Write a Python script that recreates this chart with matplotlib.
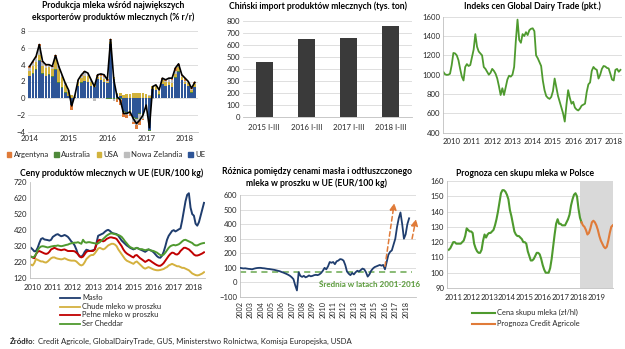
import numpy as np
import matplotlib
matplotlib.use("Agg")
import matplotlib.pyplot as plt
from matplotlib.lines import Line2D
from matplotlib.patches import Patch

plt.rcParams['font.family'] = ['Lato', 'DejaVu Sans']

# ---------------- data ----------------
# 1. Milk production growth among largest exporters (% y/y), monthly from Jan 2014
prod_years = ["2014", "2015", "2016", "2017", "2018"]
prod_ue = [2.6, 2.9, 3.4, 4.4, 2.9, 2.6, 2.8, 2.5, 3.4, 1.8, 1.2, 0.6,
           0.25, -0.85, 0.15, 1.45, 1.85, 2.05, 1.95, 1.45, 1.35, 2.25, 2.15, 1.95,
           1.8, 6.4, 2.3, 0.5, 0.3, -1.5, -1.6, -1.4, -2.2, -2.3, -1.8, -1.9,
           -0.9, -3.8, 1.1, 1.0, 0.45, 1.65, 1.45, 1.55, 1.35, 2.45, 3.15, 2.15,
           1.65, 1.45, 0.65, 1.35]
prod_usa = [0.6, 0.8, 0.8, 0.7, 0.9, 0.9, 0.8, 0.9, 1.2, 1.6, 1.2, 0.9,
            0.5, 0.3, 0.1, 0.4, 0.5, 0.6, 0.7, 0.5, 0.3, 0.2, 0.3, 0.3,
            0.2, 0.3, 0.2, 0.1, 0.3, 0.4, 0.5, 0.5, 0.6, 0.6, 0.6, 0.6,
            0.5, 0.3, 0.4, 0.5, 0.4, 0.5, 0.4, 0.4, 0.4, 0.4, 0.5, 0.3,
            0.3, 0.3, 0.3, 0.3]
prod_nz = [0.3, 0.4, 0.5, 1.0, 0.4, 0.3, 0.3, 0.2, 0.3, 0.3, 0.3, 0.2,
           0.2, 0.1, 0.1, 0.2, 0.3, 0.4, 0.3, 0.2, -0.3, 0.1, 0.2, 0.2,
           0.1, 0.2, -0.2, 0.0, -0.1, -0.2, -0.3, -0.3, -0.5, -0.8, -0.8, -0.4,
           -0.2, 0.1, -0.1, 0.0, 0.1, 0.1, 0.2, 0.3, 0.4, 0.4, 0.2, 0.1,
           0.1, 0.1, 0.1, 0.1]
prod_arg = [0.2, 0.2, 0.2, 0.2, 0.1, 0.1, 0.0, 0.1, 0.1, 0.0, 0.0, 0.0,
            0.0, -0.5, 0.0, 0.1, 0.1, 0.1, 0.0, 0.0, 0.0, 0.2, 0.2, 0.3,
            0.2, 0.2, 0.0, -0.3, -0.6, -0.4, -0.3, -0.3, -0.2, -0.4, -0.5, -0.2,
            -0.1, 0.0, 0.0, 0.1, 0.0, 0.1, 0.1, 0.1, 0.2, 0.3, 0.2, 0.2,
            0.3, 0.1, 0.1, 0.1]
prod_aus = [0.1] * 12 + [0.05] * 12 + [-0.1] * 12 + \
           [-0.1, -0.1, 0.0, 0.0, 0.05, 0.05, 0.05, 0.05, 0.05, 0.05, 0.05, 0.05] + [0.05] * 4
prod_total = [3.8, 4.4, 5.0, 6.4, 4.4, 4.0, 4.0, 3.8, 5.1, 3.8, 2.8, 1.8,
              1.0, -0.9, 0.4, 2.2, 2.8, 3.2, 3.0, 2.2, 1.4, 2.8, 2.9, 2.8,
              2.2, 7.0, 2.2, 0.2, -0.2, -1.8, -1.8, -1.6, -2.4, -3.0, -2.6, -2.0,
              -0.8, -3.5, 1.4, 1.6, 1.0, 2.4, 2.2, 2.4, 2.4, 3.6, 4.1, 2.8,
              2.4, 2.0, 1.2, 1.9]

# 2. Chinese dairy imports (thousand tonnes)
china_periods = ["2015 I-III", "2016 I-III", "2017 I-III", "2018 I-III"]
china_import = [455, 650, 655, 755]

# 3. Global Dairy Trade price index, monthly from Aug 2009
gdt_start = 2009 + 7 / 12
gdt_index = [1030, 1005, 998, 1000, 1010,
             1100, 1225, 1220, 1200, 1150, 1060, 980, 940, 1080, 1110, 1090, 1100,
             1180, 1260, 1420, 1290, 1240, 1220, 1200, 1080, 1060, 1030, 1000, 1020,
             1060, 1040, 1010, 960, 880, 790, 860, 790, 870, 950, 990, 980,
             1000, 1080, 1350, 1570, 1360, 1330, 1420, 1400, 1440, 1410, 1460, 1475,
             1480, 1450, 1200, 1170, 1130, 1090, 940, 840, 780, 760, 750, 770,
             830, 960, 870, 780, 720, 660, 600, 515, 690, 840, 760, 700,
             720, 660, 640, 630, 650, 680, 690, 700, 820, 900, 920, 1040,
             1080, 1060, 1050, 960, 1000, 1060, 1090, 1085, 1070, 1065, 1010, 950,
             940, 1050, 1060, 1030, 1050]

# 4. EU dairy product prices (EUR/100 kg), monthly from Dec 2009
eu_start = 2009 + 11 / 12
butter = [310,
          300, 288, 290, 310, 340, 365, 370, 362, 360, 358, 355, 360,
          378, 385, 392, 395, 388, 382, 385, 390, 385, 378, 365, 350,
          340, 325, 300, 270, 258, 255, 265, 285, 298, 295, 290, 292,
          295, 300, 340, 385, 390, 395, 400, 410, 418, 422, 415, 405,
          400, 398, 395, 385, 370, 355, 345, 335, 325, 318, 310, 305,
          300, 305, 310, 305, 300, 295, 290, 285, 292, 300, 295, 290,
          282, 270, 258, 250, 248, 260, 285, 320, 360, 385, 400, 415,
          420, 412, 418, 425, 430, 480, 540, 600, 640, 650, 560, 520,
          510, 460, 448, 470, 510, 550, 590]
smp = [205,
       200, 215, 240, 235, 230, 225, 225, 220, 218, 225, 235, 245,
       250, 250, 245, 242, 240, 238, 240, 245, 240, 235, 232, 230,
       230, 230, 225, 215, 205, 200, 205, 220, 240, 250, 260, 265,
       265, 275, 290, 305, 310, 305, 300, 305, 315, 325, 330, 335,
       335, 330, 320, 300, 285, 270, 255, 240, 230, 225, 220, 215,
       210, 220, 225, 215, 205, 195, 185, 180, 185, 190, 185, 180,
       175, 172, 170, 170, 172, 175, 178, 185, 190, 200, 205, 210,
       205, 200, 195, 195, 190, 185, 185, 180, 175, 170, 160, 150,
       145, 140, 138, 140, 145, 150, 158]
wmp = [255,
       250, 245, 270, 285, 290, 285, 280, 275, 272, 275, 285, 300,
       305, 310, 305, 300, 298, 295, 298, 300, 295, 290, 290, 290,
       290, 288, 280, 270, 255, 250, 255, 270, 285, 290, 290, 290,
       290, 300, 330, 355, 360, 355, 350, 355, 365, 370, 375, 375,
       372, 370, 365, 350, 335, 320, 300, 285, 275, 268, 262, 255,
       250, 262, 265, 255, 245, 238, 230, 222, 228, 235, 230, 222,
       215, 208, 202, 198, 198, 205, 215, 230, 245, 260, 272, 280,
       278, 270, 268, 275, 290, 300, 310, 310, 305, 300, 290, 280,
       268, 262, 262, 265, 270, 275, 282]
cheddar = [255,
           250, 255, 270, 295, 310, 318, 320, 318, 315, 312, 315, 318,
           320, 322, 322, 325, 322, 320, 322, 325, 328, 330, 335, 338,
           340, 342, 342, 345, 340, 335, 360, 345, 342, 345, 345, 342,
           340, 338, 335, 338, 345, 355, 365, 375, 385, 392, 398, 400,
           398, 395, 392, 390, 385, 378, 365, 350, 338, 325, 315, 310,
           305, 305, 310, 305, 300, 302, 298, 295, 298, 300, 295, 292,
           290, 285, 280, 272, 265, 262, 268, 280, 295, 310, 320, 325,
           328, 325, 328, 332, 340, 350, 358, 360, 355, 350, 345, 340,
           330, 325, 325, 330, 335, 338, 340]
eu_names = ["Masło", "Chude mleko w proszku", "Pełne mleko w proszku", "Ser Cheddar"]

# 5. Butter minus SMP price spread (EUR/100 kg), every two months from 2002
spread_start = 2002
spread = [100, 98, 96, 97, 95, 93,
          92, 90, 94, 97, 99, 100,
          100, 98, 97, 95, 93, 92,
          90, 88, 86, 83, 80, 77,
          72, 68, 63, 58, 52, 45,
          35, 22, -20, -55, 70, 45,
          38, 45, 35, 40, 48, 42,
          45, 50, 52, 50, 55, 65,
          80, 100, 90, 110, 140, 135,
          140, 125, 145, 150, 160, 158,
          150, 120, 75, 60, 50, 65,
          55, 70, 80, 75, 85, 95,
          90, 70, 40, 55, 80, 95,
          105, 110, 115, 120, 115, 120,
          90, 140, 190, 210, 220, 260,
          300, 380, 440, 480, 400, 300,
          330, 400, 440]
spread_avg = 75
arrow_up1 = [(2016.0, 110), (2016.9, 545)]
arrow_up2 = [(2018.62, 300), (2019.0, 435)]

# 6. Polish milk purchase price (PLN/hl) and forecast, monthly
milk_start = 2010 + 9 / 12
milk_price = [115, 116, 118, 120, 120, 119, 119, 119, 119, 120, 121, 124,
              129, 128, 127, 127, 126, 119, 116, 114, 113, 113, 115, 121,
              125, 123, 125, 126, 126, 127, 128, 131, 135, 140, 146, 152,
              154, 154, 153, 151, 148, 141, 137, 132, 127, 125, 124, 124,
              123, 122, 120, 120, 119, 114, 111, 108, 108, 109, 111, 113,
              113, 112, 109, 105, 102, 100, 100, 100, 103, 109, 117, 125,
              132, 135, 132, 132, 131, 131, 131, 133, 135, 138, 144, 148,
              151, 152, 150, 142, 136, 133]
fc_start = 2018 + 2 / 12
milk_forecast = [133, 131, 130, 128, 125, 126, 129, 133, 134, 133, 131, 128,
                 124, 121, 119, 117, 116, 117, 121, 126, 130, 131]
forecast_from = 2018.1

# ---------------- styling helpers ----------------
W, H = 625, 349
fig = plt.figure(figsize=(W / 100, H / 100), dpi=100)
GRID = '#d9d9d9'
TXT = '#262626'
TICK_FS = 5.6
TITLE_FS = 6.2


def add_ax(l, t, r, b):
    return fig.add_axes([l / W, 1 - b / H, (r - l) / W, (b - t) / H])


def style(ax, grid=True):
    for s in ['top', 'right']:
        ax.spines[s].set_visible(False)
    for s in ['left', 'bottom']:
        ax.spines[s].set_color('#bfbfbf')
        ax.spines[s].set_linewidth(0.6)
    ax.tick_params(length=0, labelsize=TICK_FS, colors=TXT, pad=2)
    if grid:
        ax.yaxis.grid(True, color=GRID, lw=0.6)
        ax.set_axisbelow(True)


def ftext(x, y, s, **kw):
    kw.setdefault('fontsize', TITLE_FS)
    kw.setdefault('color', 'black')
    fig.text(x / W, 1 - y / H, s, **kw)


# ---------------- panel 1 ----------------
ax1 = add_ax(28, 31, 198, 132)
style(ax1)
xm = np.arange(len(prod_total))
series = [(prod_ue, '#2e5597', 'UE'), (prod_aus, '#4f8a3a', 'Australia'),
          (prod_usa, '#d2b33d', 'USA'), (prod_nz, '#bdbdbd', 'Nowa Zelandia'),
          (prod_arg, '#e07b39', 'Argentyna')]
pos_base = np.zeros(len(xm))
neg_base = np.zeros(len(xm))
for vals, col, name in series:
    v = np.array(vals, dtype=float)
    pos = np.where(v > 0, v, 0)
    neg = np.where(v < 0, v, 0)
    ax1.bar(xm, pos, bottom=pos_base, width=0.78, color=col, lw=0)
    ax1.bar(xm, neg, bottom=neg_base, width=0.78, color=col, lw=0)
    pos_base += pos
    neg_base += neg
ax1.plot(xm, prod_total, color='black', lw=1.2)
ax1.set_ylim(-4, 8)
ax1.set_yticks(range(-4, 9, 2))
ax1.set_xlim(-0.5, 52)
ax1.set_xticks([0, 12, 24, 36, 48])
ax1.set_xticklabels(prod_years)
ax1.spines['left'].set_visible(False)
ftext(113, 5, "Produkcja mleka wśród największych", ha='center', va='center', fontweight='bold')
ftext(113, 17, "eksporterów produktów mlecznych (% r/r)", ha='center', va='center', fontweight='bold')
leg_handles = [Patch(color=c) for _, c, _ in [series[4], series[1], series[2], series[3], series[0]]]
leg_labels = ['Argentyna', 'Australia', 'USA', 'Nowa Zelandia', 'UE']
fig.legend(leg_handles, leg_labels, loc='center', bbox_to_anchor=(106 / W, 1 - 154.5 / H),
           ncol=5, frameon=False, fontsize=5.6, handlelength=0.6, handleheight=0.6,
           handletextpad=0.3, columnspacing=0.7, borderpad=0, labelcolor=TXT)

# ---------------- panel 2 ----------------
ax2 = add_ax(243, 20.5, 412, 117.3)
style(ax2)
ax2.bar(range(len(china_import)), china_import, width=0.4, color='#3a3a3a')
ax2.set_xlim(-0.5, 3.5)
ax2.set_ylim(0, 800)
ax2.set_yticks(range(0, 801, 100))
ax2.set_xticks(range(len(china_periods)))
ax2.set_xticklabels(china_periods)
ax2.tick_params(axis='x', pad=5)
ax2.spines['left'].set_visible(False)
ftext(318, 6, "Chiński import produktów mlecznych (tys. ton)", ha='center', va='center', fontweight='bold')

# ---------------- panel 3 ----------------
ax3 = add_ax(443, 16.7, 622, 132.7)
style(ax3)
gx = gdt_start + np.arange(len(gdt_index)) / 12
ax3.plot(gx, gdt_index, color='#4e9a2e', lw=1.3)
ax3.set_xlim(2009.57, 2018.41)
ax3.set_ylim(400, 1600)
ax3.set_yticks(range(400, 1601, 200))
ax3.set_xticks(range(2010, 2019))
ax3.tick_params(axis='x', pad=4)
ftext(532, 6, "Indeks cen Global Dairy Trade (pkt.)", ha='center', va='center', fontweight='bold')

# ---------------- panel 4 ----------------
ax4 = add_ax(30, 182, 205, 278.3)
style(ax4, grid=False)
ex = eu_start + np.arange(len(butter)) / 12
eu_cols = ['#1f3d6e', '#d4b13f', '#c00000', '#4f9a2f']
for vals, col in zip([butter, smp, wmp, cheddar], eu_cols):
    ax4.plot(ex, vals, color=col, lw=1.4)
ax4.set_xlim(2009.87, 2018.55)
ax4.set_ylim(120, 720)
ax4.set_yticks(range(120, 721, 100))
ax4.set_xticks(range(2010, 2019))
ax4.tick_params(axis='x', pad=4)
ftext(112, 173.5, "Ceny produktów mlecznych w UE (EUR/100 kg)", ha='center', va='center', fontweight='bold')
for i, (name, col) in enumerate(zip(eu_names, eu_cols)):
    yy = 1 - (298 + 8.5 * i) / H
    fig.add_artist(Line2D([60 / W, 80 / W], [yy, yy], color=col, lw=1.3))
    fig.text(82 / W, yy, name, fontsize=5.4, color=TXT, va='center')

# ---------------- panel 5 ----------------
ax5 = add_ax(240, 195, 416, 297)
style(ax5)
sx = spread_start + np.arange(len(spread)) / 6
ax5.plot(sx, spread, color='#1f3d6e', lw=1.3, zorder=3)
ax5.plot([2002, 2018.6], [spread_avg, spread_avg], color='#6aa84f', lw=1.1, ls=(0, (4, 3)), zorder=2)
for (x0, y0), (x1, y1) in [arrow_up1, arrow_up2]:
    ax5.annotate('', xy=(x1, y1), xytext=(x0, y0),
                 arrowprops=dict(arrowstyle='-|>', color='#e07b39', lw=1.1, ls=(0, (3, 2)),
                                 mutation_scale=10, shrinkA=0, shrinkB=0), annotation_clip=False)
ax5.text(2009.6, -12, "Średnia w latach 2001-2016", color='#5a9a3a', fontsize=5.8,
         fontweight='bold', va='center')
ax5.set_xlim(2002, 2019)
ax5.set_ylim(-100, 600)
ax5.set_yticks(range(-100, 601, 100))
ax5.set_xticks(range(2002, 2019))
ax5.set_xticklabels([str(y) for y in range(2002, 2019)], rotation=90)
ax5.tick_params(axis='x', pad=3, labelsize=5.2)
ftext(317, 171, "Różnica pomiędzy cenami masła i odtłuszczonego", ha='center', va='center', fontweight='bold')
ftext(317, 183, "mleka w proszku w UE (EUR/100 kg)", ha='center', va='center', fontweight='bold')

# ---------------- panel 6 ----------------
ax6 = add_ax(447, 181, 613, 288)
style(ax6)
ax6.axvspan(forecast_from, 2019.93, color='#d9d9d9', lw=0, zorder=0)
mx = milk_start + np.arange(len(milk_price)) / 12
fx = fc_start + np.arange(len(milk_forecast)) / 12
ax6.plot(mx, milk_price, color='#4e9a2e', lw=1.5)
ax6.plot(fx, milk_forecast, color='#e07b39', lw=1.5)
ax6.set_xlim(2010.65, 2019.93)
ax6.set_ylim(90, 160)
ax6.set_yticks(range(90, 161, 10))
ax6.set_xticks(range(2011, 2020))
ax6.tick_params(axis='x', pad=4)
ftext(525, 173, "Prognoza cen skupu mleka w Polsce", ha='center', va='center', fontweight='bold')
for i, (name, col) in enumerate([("Cena skupu mleka (zł/hl)", '#4e9a2e'),
                                 ("Prognoza Credit Agricole", '#e07b39')]):
    yy = 1 - (312.5 + 11 * i) / H
    fig.add_artist(Line2D([472 / W, 495 / W], [yy, yy], color=col, lw=1.5))
    fig.text(497 / W, yy, name, fontsize=5.4, color=TXT, va='center')

# ---------------- source ----------------
src_bold = fig.text(10 / W, 1 - 341 / H, "Źródło:", fontsize=5.6, fontweight='bold', color=TXT, va='center')
fig.canvas.draw()
bb = src_bold.get_window_extent()
fig.text((bb.x1 + 2) / W, 1 - 341 / H,
         "Credit Agricole, GlobalDairyTrade, GUS, Ministerstwo Rolnictwa, Komisja Europejska, USDA",
         fontsize=5.6, color=TXT, va='center')

fig.savefig("out.png", dpi=100, facecolor='white')
